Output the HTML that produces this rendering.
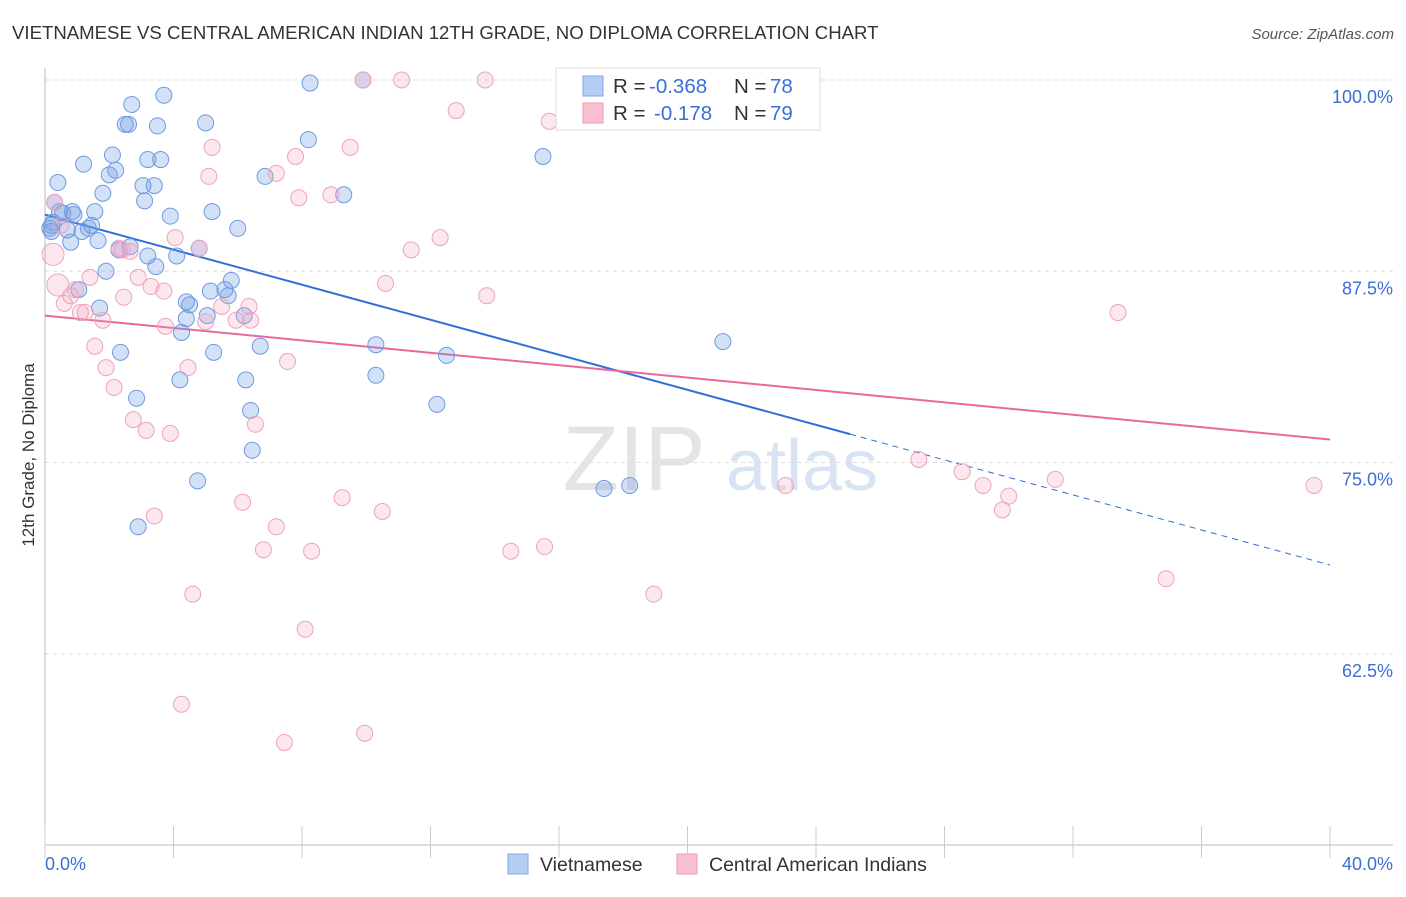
<!DOCTYPE html>
<html><head><meta charset="utf-8">
<style>
body{margin:0;background:#fff;font-family:"Liberation Sans",sans-serif;}
svg text{font-family:"Liberation Sans",sans-serif;}
</style></head>
<body>
<svg id="chart" width="1406" height="892" xmlns="http://www.w3.org/2000/svg">
<text x="12" y="39" font-size="18.6" fill="#333">VIETNAMESE VS CENTRAL AMERICAN INDIAN 12TH GRADE, NO DIPLOMA CORRELATION CHART</text>
<text x="1394" y="39" font-size="15" fill="#555" font-style="italic" text-anchor="end">Source: ZipAtlas.com</text>
<text transform="translate(34,455) rotate(-90)" font-size="17" fill="#333" text-anchor="middle">12th Grade, No Diploma</text>
<g>
<text x="634" y="490" font-size="92" fill="#e4e4e4" font-family="Liberation Serif" text-anchor="middle">ZIP</text>
<text x="802" y="490" font-size="72" fill="#d8e4f4" text-anchor="middle">atlas</text>
</g>
<g id="grid"></g>
<g id="axes"></g>
<g id="trends"></g>
<g id="points"></g>
<g>
<rect x="556" y="68" width="264" height="62" fill="#fff" fill-opacity="0.9" stroke="#ddd"/>
<rect x="583" y="76" width="20" height="20" fill="#b3cdf3" stroke="#7ea6e6"/>
<text x="613" y="93" font-size="20.5" fill="#333">R = </text><text x="649" y="93" font-size="20.5" fill="#3a6fd8">-0.368</text>
<text x="734" y="93" font-size="20.5" fill="#333">N = </text><text x="770" y="93" font-size="20.5" fill="#3a6fd8">78</text>
<rect x="583" y="103" width="20" height="20" fill="#f7bfd0" stroke="#ee9ab6"/>
<text x="613" y="120" font-size="20.5" fill="#333">R = </text><text x="654" y="120" font-size="20.5" fill="#3a6fd8">-0.178</text>
<text x="734" y="120" font-size="20.5" fill="#333">N = </text><text x="770" y="120" font-size="20.5" fill="#3a6fd8">79</text>
</g>
<g>
<rect x="508" y="854" width="20" height="20" fill="#b3cdf3" stroke="#7ea6e6"/>
<text x="540" y="871" font-size="19.5" fill="#333">Vietnamese</text>
<rect x="677" y="854" width="20" height="20" fill="#f7bfd0" stroke="#ee9ab6"/>
<text x="709" y="871" font-size="19.5" fill="#333">Central American Indians</text>
</g>
</svg>
<script>
const xTicks=[0,40];
const yTicks=[100,87.5,75,62.5];
const blueX=[8.25,9.9,3.7,2.7,2.5,2.6,3.5,5.0,8.2,2.1,3.2,3.6,1.2,2.2,2.0,0.4,3.05,3.4,1.8,3.1,6.85,9.3,0.3,3.9,5.2,1.55,0.55,0.9,1.35,1.45,0.2,0.2,0.7,1.15,0.8,1.65,6.0,2.3,2.65,3.2,4.1,4.8,3.45,1.9,5.8,5.15,5.6,5.7,1.05,4.4,4.5,1.7,5.05,4.4,6.2,4.25,2.35,5.25,6.7,10.3,12.5,4.2,6.25,10.3,2.85,6.4,12.2,6.45,4.75,2.9,15.5,21.1,17.4,18.2,0.25,0.15,0.45,0.85];
const blueY=[99.8,100,99.0,98.4,97.1,97.1,97.0,97.2,96.1,95.1,94.8,94.8,94.5,94.1,93.8,93.3,93.1,93.1,92.6,92.1,93.7,92.5,92.0,91.1,91.4,91.4,91.3,91.2,90.3,90.5,90.5,90.1,90.2,90.1,89.4,89.5,90.3,88.9,89.1,88.5,88.5,89.0,87.8,87.5,86.9,86.2,86.3,85.9,86.3,85.5,85.3,85.1,84.6,84.4,84.6,83.5,82.2,82.2,82.6,82.7,82.0,80.4,80.4,80.7,79.2,78.4,78.8,75.8,73.8,70.8,95.0,82.9,73.3,73.5,90.7,90.3,91.4,91.4];
const pinkX=[9.9,11.1,13.7,17.6,22.25,12.8,15.7,5.2,9.5,7.8,7.2,5.1,7.9,8.9,0.3,4.05,4.8,11.4,12.3,2.4,2.65,2.3,0.25,0.4,1.4,2.9,3.3,3.7,10.6,13.75,0.8,0.6,0.95,2.45,1.1,1.25,1.8,5.5,6.35,5.95,6.4,3.75,5.0,1.55,1.9,4.45,7.55,2.15,2.75,3.15,3.9,6.55,27.2,28.55,29.2,30.0,29.8,31.45,39.5,23.05,33.4,34.9,3.4,6.15,7.2,9.25,10.5,6.8,8.3,14.5,15.55,4.6,18.95,8.1,4.25,7.45,9.95,0.5];
const pinkY=[100,100,100,99.8,99.9,98.0,97.3,95.6,95.6,95.0,93.9,93.7,92.3,92.5,92.0,89.7,89.0,88.9,89.7,88.9,88.8,89.0,88.6,86.6,87.1,87.1,86.5,86.2,86.7,85.9,85.9,85.4,86.3,85.8,84.8,84.8,84.3,85.2,85.2,84.3,84.3,83.9,84.2,82.6,81.2,81.2,81.6,79.9,77.8,77.1,76.9,77.5,75.2,74.4,73.5,72.8,71.9,73.9,73.5,73.5,84.8,67.4,71.5,72.4,70.8,72.7,71.8,69.3,69.2,69.2,69.5,66.4,66.4,64.1,59.2,56.7,57.3,90.5];
const bigPink=[22,23];
const blueTrend=[91.2,68.3]; // y at x=0 and x=40
const blueSolidEnd=25.06;
const pinkTrend=[84.6,76.5];

const NS="http://www.w3.org/2000/svg";
const L=45,R=1330,T=80;
const xs=v=>L+(v-0)/40*(R-L);
const ys=v=>T+(100-v)*15.3;
function mk(tag,attrs,parent){const e=document.createElementNS(NS,tag);for(const k in attrs)e.setAttribute(k,attrs[k]);parent.appendChild(e);return e;}
const grid=document.getElementById('grid'),axes=document.getElementById('axes'),tr=document.getElementById('trends'),pts=document.getElementById('points');
yTicks.forEach(t=>{
 const g=mk('line',{x1:L,x2:1393,y1:ys(t),y2:ys(t),stroke:'#ddd','stroke-dasharray':'4,4'},grid);
 
 
 const lb=mk('text',{x:1393,y:ys(t)+23,'font-size':18,fill:'#3a6fd8','text-anchor':'end'},grid);
 lb.textContent=t.toFixed(1)+'%';
 
 
});
const ax=mk('line',{x1:L,x2:1393,y1:845,y2:845,stroke:'#bbb'},axes);


const ay=mk('line',{x1:L,x2:L,y1:68,y2:845,stroke:'#bbb'},axes);


for(let i=0;i<=10;i++){const x=xs(i*4);const tk=mk('line',{x1:x,x2:x,y1:826,y2:858,stroke:'#ccc'},axes);
 
 }
xTicks.forEach((t,i)=>{const lb=mk('text',{x:i===0?45:1393,y:870,'font-size':18,fill:'#3a6fd8','text-anchor':i===0?'start':'end'},axes);
 lb.textContent=t.toFixed(1)+'%';
 
 });
const by=x=>blueTrend[0]+(blueTrend[1]-blueTrend[0])*x/40;
const py=x=>pinkTrend[0]+(pinkTrend[1]-pinkTrend[0])*x/40;
blueX.forEach((x,i)=>{const c=mk('circle',{cx:xs(x),cy:ys(blueY[i]),r:8,fill:'rgba(110,155,230,0.3)',stroke:'#6d9be0','stroke-width':1},pts);
 
 });
pinkX.forEach((x,i)=>{const c=mk('circle',{cx:xs(x),cy:ys(pinkY[i]),r:bigPink.includes(i)?11:8,fill:'rgba(245,160,190,0.25)',stroke:'#eda3bc','stroke-width':1},pts);
 
 });
const b1=mk('line',{x1:xs(0),y1:ys(by(0)),x2:xs(blueSolidEnd),y2:ys(by(blueSolidEnd)),stroke:'#2f6fd6','stroke-width':2},tr);


const b2=mk('line',{x1:xs(blueSolidEnd),y1:ys(by(blueSolidEnd)),x2:xs(40),y2:ys(by(40)),stroke:'#2f6fd6','stroke-width':1,'stroke-dasharray':'6,5'},tr);


const p1=mk('line',{x1:xs(0),y1:ys(py(0)),x2:xs(40),y2:ys(py(40)),stroke:'#e8689a','stroke-width':2},tr);


</script>
</body></html>
